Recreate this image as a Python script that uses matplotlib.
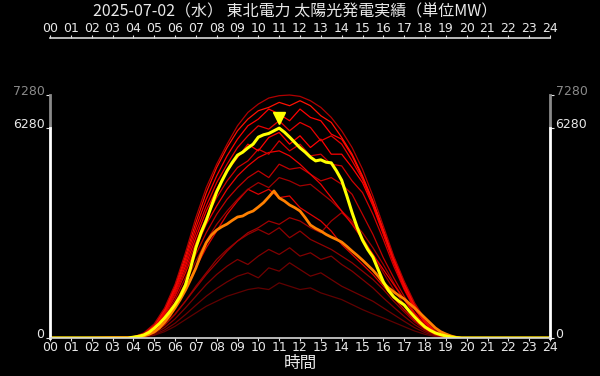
import numpy as np
import matplotlib
matplotlib.use("Agg")
from matplotlib import pyplot as plt
from matplotlib import transforms

plt.rcParams['font.family'] = ['Noto Sans CJK JP', 'DejaVu Sans']

""" DATA """
title = "2025-07-02（水） 東北電力 太陽光発電実績（単位MW）"
hour_labels = ["%02d" % h for h in range(25)]

# 過去の日 (30分毎, 4:00 - 19:30)
past_hours = [4.0, 4.5, 5.0, 5.5, 6.0, 6.5, 7.0, 7.5, 8.0, 8.5, 9.0, 9.5, 10.0, 10.5, 11.0, 11.5,
              12.0, 12.5, 13.0, 13.5, 14.0, 14.5, 15.0, 15.5, 16.0, 16.5, 17.0, 17.5, 18.0, 18.5, 19.0, 19.5]
past_days = [
    [30, 150, 420, 900, 1600, 2550, 3600, 4500, 5200, 5800, 6350, 6750, 7000, 7180, 7250, 7270, 7230, 7100, 6900, 6600, 6200, 5700, 5050, 4250, 3350, 2450, 1700, 1050, 560, 220, 70, 10],
    [25, 130, 380, 850, 1550, 2450, 3450, 4350, 5100, 5700, 6200, 6550, 6800, 6900, 7050, 6950, 7100, 6950, 6650, 6450, 6000, 5500, 4850, 4100, 3250, 2400, 1650, 1000, 530, 200, 60, 10],
    [25, 120, 360, 820, 1480, 2350, 3300, 4150, 4850, 5450, 5950, 6350, 6550, 6850, 6700, 6500, 6850, 6600, 6500, 6100, 5950, 5450, 4800, 4050, 3200, 2350, 1600, 970, 500, 190, 55, 8],
    [20, 110, 340, 780, 1420, 2250, 3150, 3950, 4650, 5200, 5700, 6050, 6350, 6250, 6500, 6200, 6450, 6300, 5900, 6050, 5800, 5300, 4750, 4000, 3150, 2300, 1550, 940, 480, 180, 50, 5],
    [20, 100, 320, 750, 1380, 2150, 3000, 3800, 4450, 5000, 5400, 5800, 5600, 6000, 6150, 5800, 6050, 5700, 5950, 5500, 5500, 5100, 4650, 3950, 3100, 2250, 1500, 900, 460, 170, 45, 5],
    [18, 95, 300, 700, 1300, 2050, 2850, 3600, 4200, 4700, 5100, 5300, 5650, 5500, 5900, 5600, 5800, 5450, 5500, 5200, 5150, 4700, 4350, 3700, 2950, 2150, 1450, 860, 440, 160, 40, 5],
    [18, 90, 290, 680, 1250, 1950, 2700, 3400, 3950, 4450, 4850, 5150, 5400, 5550, 5600, 5450, 5200, 4900, 4600, 4200, 3800, 3400, 2950, 2500, 2050, 1600, 1150, 720, 380, 140, 35, 5],
    [15, 80, 260, 620, 1150, 1800, 2500, 3150, 3700, 4150, 4500, 4800, 5000, 4800, 5200, 5050, 5100, 4900, 4700, 4800, 4600, 4300, 3700, 3100, 2400, 1800, 1250, 760, 380, 140, 35, 5],
    [15, 75, 240, 570, 1050, 1650, 2300, 2900, 3400, 3800, 4150, 4450, 4650, 4500, 4800, 4700, 4550, 4600, 4350, 4100, 3800, 3500, 3150, 2700, 2200, 1650, 1150, 700, 350, 130, 30, 5],
    [12, 70, 220, 520, 960, 1500, 2100, 2700, 3200, 3700, 4100, 4450, 4300, 4450, 4200, 4250, 3900, 3700, 3500, 3200, 2800, 2500, 2200, 1900, 1550, 1200, 850, 530, 280, 100, 25, 4],
    [10, 55, 170, 400, 720, 1100, 1500, 1900, 2250, 2600, 2900, 3150, 3300, 3500, 3400, 3600, 3500, 3300, 3150, 3500, 3750, 3450, 3000, 2500, 1950, 1450, 1000, 600, 300, 110, 25, 4],
    [8, 50, 160, 380, 700, 1100, 1550, 1950, 2350, 2650, 2900, 3100, 3250, 3100, 3300, 3000, 3200, 2950, 2800, 2650, 2450, 2250, 2000, 1750, 1450, 1100, 780, 480, 250, 90, 20, 3],
    [6, 40, 130, 310, 570, 900, 1250, 1600, 1900, 2150, 2350, 2200, 2450, 2650, 2500, 2700, 2450, 2550, 2350, 2450, 2200, 2000, 1750, 1500, 1200, 920, 650, 400, 210, 80, 18, 3],
    [5, 30, 100, 240, 440, 700, 980, 1250, 1480, 1680, 1850, 1950, 1800, 2100, 2000, 2250, 2050, 1850, 1950, 1750, 1550, 1400, 1250, 1100, 900, 700, 500, 310, 160, 60, 14, 2],
    [4, 25, 80, 190, 350, 550, 750, 950, 1100, 1250, 1350, 1450, 1500, 1450, 1650, 1550, 1450, 1500, 1350, 1250, 1150, 1000, 850, 720, 600, 470, 340, 210, 110, 40, 10, 2],
]
past_colors = ['#b00000', '#ff1000', '#ff0000', '#e80000', '#ff0000', '#d00000', '#ee0000', '#c00000',
               '#a00000', '#e00000', '#a00000', '#900000', '#800000', '#700000', '#600000']

# 15分毎 (3:45 - 19:45)
q_hours = [3.75, 4.0, 4.25, 4.5, 4.75, 5.0, 5.25, 5.5, 5.75, 6.0, 6.25, 6.5, 6.75, 7.0, 7.25, 7.5, 7.75,
           8.0, 8.25, 8.5, 8.75, 9.0, 9.25, 9.5, 9.75, 10.0, 10.25, 10.5, 10.75, 11.0, 11.25, 11.5, 11.75,
           12.0, 12.25, 12.5, 12.75, 13.0, 13.25, 13.5, 13.75, 14.0, 14.25, 14.5, 14.75, 15.0, 15.25, 15.5,
           15.75, 16.0, 16.25, 16.5, 16.75, 17.0, 17.25, 17.5, 17.75, 18.0, 18.25, 18.5, 18.75, 19.0, 19.25,
           19.5, 19.75]
today = [0, 25, 50, 90, 170, 290, 430, 600, 790, 1000, 1250, 1580, 2100, 2700, 3150, 3520, 3950,
         4370, 4700, 5000, 5250, 5470, 5560, 5690, 5800, 6010, 6080, 6120, 6200, 6280, 6160, 6010, 5850,
         5690, 5560, 5410, 5300, 5330, 5260, 5240, 5000, 4720, 4250, 3750, 3300, 2930, 2650, 2420,
         2050, 1680, 1420, 1230, 1100, 990, 800, 630, 470, 330, 230, 150, 100, 60, 30,
         10, 0]
yesterday = [0, 20, 35, 60, 110, 180, 300, 470, 670, 900, 1150, 1430, 1750, 2090, 2500, 2850, 3080,
             3230, 3330, 3410, 3520, 3620, 3650, 3740, 3800, 3920, 4050, 4220, 4400, 4190, 4100, 3980, 3900,
             3800, 3600, 3380, 3280, 3200, 3100, 3020, 2950, 2870, 2740, 2600, 2470, 2330, 2180, 2030,
             1850, 1650, 1500, 1380, 1270, 1170, 1030, 900, 750, 600, 450, 300, 190, 120, 60,
             20, 0]

text_color = '#e8e8e8'
axis_color = '#d8d8d8'
grey = '#8a8a8a'


def full_day(hours, values):
    # 夜間は 0
    return [0] + list(hours) + [24], [0] + list(values) + [0]


fig = plt.figure(figsize=(6, 3.76), dpi=100, facecolor='black')
ax = fig.add_axes([50 / 600, 1 - 338 / 376, 500 / 600, 300 / 376], facecolor='black')

for vals, c in zip(past_days[::-1], past_colors[::-1]):
    x, y = full_day(past_hours, vals)
    ax.plot(x, y, color=c, lw=0.9)

x, y = full_day(q_hours, yesterday)
ax.plot(x, y, color='#ff8000', lw=2)
x, y = full_day(q_hours, today)
ax.plot(x, y, color='#ffff00', lw=2.2)

# 最大値
peak = max(today)
peak_h = q_hours[today.index(peak)]
tr = transforms.offset_copy(ax.transData, fig=fig, y=10, units='dots')
ax.plot([peak_h], [peak], marker='v', color='#ffff00', markersize=8, transform=tr, clip_on=False)

top = peak + 1000
ax.set_xlim(0, 24)
ax.set_ylim(0, top * 1.233)

# 軸
ax.set_xticks(range(25))
ax.set_xticklabels(hour_labels)
ax.tick_params(axis='x', top=True, labeltop=True, colors=text_color, labelsize=9, length=2, pad=0)
ax.set_yticks([0, peak, top])
ax.set_yticklabels(['0', str(peak), str(top)])
ax.tick_params(axis='y', left=True, right=True, labelright=True, colors=text_color, labelsize=9,
               length=3, pad=1)
for t in ax.xaxis.get_major_ticks() + ax.yaxis.get_major_ticks():
    t.label1.set_family('DejaVu Sans')
    t.label2.set_family('DejaVu Sans')
for t in ax.yaxis.get_major_ticks():
    t.label1.set_va('baseline')
    t.label2.set_va('baseline')
yt = ax.yaxis.get_major_ticks()[2]
for t in [yt.label1, yt.label2]:
    t.set_color(grey)
yt.tick1line.set_color(grey)
yt.tick2line.set_color(grey)

for side in ['top', 'bottom']:
    ax.spines[side].set_color(axis_color)
    ax.spines[side].set_linewidth(1.2)
for side, xs in [('left', 0), ('right', 1)]:
    ax.spines[side].set_bounds(0, peak)
    ax.spines[side].set_color('white')
    ax.spines[side].set_linewidth(2)
    ax.plot([xs, xs], [peak, top], color=grey, lw=2, transform=ax.get_yaxis_transform(), clip_on=False)

fig.text(0.492, 1 - 12 / 376, title, color=text_color, fontsize=11.5, ha='center', va='center')
ax.set_xlabel("時間", color=text_color, fontsize=12, labelpad=1)

fig.savefig("out.png", facecolor='black')
